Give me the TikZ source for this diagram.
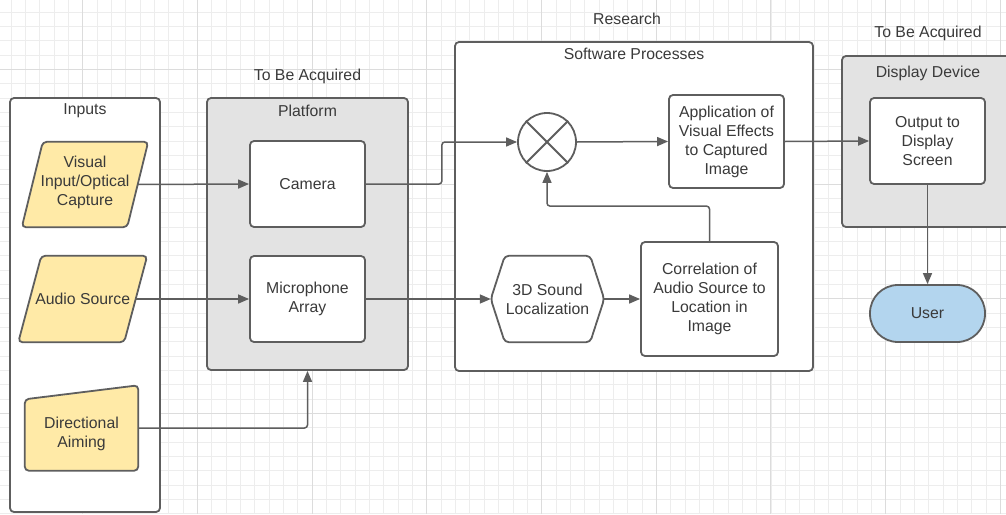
\documentclass[tikz,border=0pt]{standalone}
\usepackage{fontspec}
\setmainfont{Liberation Sans}
\usetikzlibrary{arrows.meta,calc}
\definecolor{lc}{HTML}{5E5E5E}
\definecolor{tc}{HTML}{3A3A3A}
\definecolor{yel}{HTML}{FFEAA7}
\definecolor{gfill}{HTML}{E3E3E3}
\definecolor{ublue}{HTML}{B3D5EE}
\definecolor{gminor}{HTML}{EDEDED}
\definecolor{gmajor}{HTML}{DCDCDC}
\begin{document}
\begin{tikzpicture}[x=1pt,y=-1pt,
  every node/.style={text=tc,font=\fontsize{15.8}{19}\selectfont,align=center,inner sep=0pt},
  container/.style={draw=lc,line width=1.8pt,rounded corners=4pt,fill=white},
  gcontainer/.style={container,fill=gfill},
  procbox/.style={draw=lc,line width=1.8pt,rounded corners=4pt,fill=white,minimum width=115pt,minimum height=86pt},
  shapeline/.style={draw=lc,line width=1.8pt,rounded corners=4pt},
  conn/.style={draw=lc,line width=1.5pt,rounded corners=3pt,-{Triangle[length=11pt,width=9pt]}},
  minorgrid/.style={draw=gminor,line width=0.8pt},
  majorgrid/.style={draw=gmajor,line width=1pt}]
\useasboundingbox (0,0) rectangle (1006,514);
\clip (0,0) rectangle (1006,514);
\fill[white] (0,0) rectangle (1006,514);
% grid
\foreach \i in {0,...,70} \draw[minorgrid] ({11+14.34*\i},0) -- ({11+14.34*\i},514);
\foreach \i in {0,...,35} \draw[minorgrid] (0,{11.9+14.34*\i}) -- (1006,{11.9+14.34*\i});
\foreach \i in {0,...,8} \draw[majorgrid] ({82.7+114.7*\i},0) -- ({82.7+114.7*\i},514);
\foreach \i in {0,...,3} \draw[majorgrid] (0,{69.3+114.7*\i}) -- (1006,{69.3+114.7*\i});

% containers
\node[container,minimum width=150pt,minimum height=414pt] (inputs) at (85,305) {};
\node (inputsT) at (85,111) {Inputs};
\node[gcontainer,minimum width=201pt,minimum height=272pt] (plat) at (307.5,234) {};
\node (platT) at (307.5,111) {Platform};
\node (platL) at (307.5,76.5) {To Be Acquired};
\node[container,minimum width=358pt,minimum height=329pt] (soft) at (634,206.5) {};
\node (softT) at (634,53.5) {Software Processes};
\node (softL) at (627,18.5) {Research};
\node[gcontainer,minimum width=178pt,minimum height=171pt] (disp) at (931,141.5) {};
\node (dispT) at (928,73) {Display Device};
\node (dispL) at (928,33) {To Be Acquired};

% input shapes
\node[minimum width=105pt,minimum height=85pt] (vis) at (85,184.5) {};
\path[shapeline,fill=yel] ($(vis.north west)+(10.5,0)$) -- ($(vis.north east)+(10.5,0)$) -- ($(vis.south east)+(-10.5,0)$) -- ($(vis.south west)+(-10.5,0)$) -- cycle;
\node at ($(vis.center)+(0,-2)$) {Visual\\Input/Optical\\Capture};

\node[minimum width=105.5pt,minimum height=86pt] (aud) at (82.75,299) {};
\path[shapeline,fill=yel] ($(aud.north west)+(11.5,0)$) -- ($(aud.north east)+(11.5,0)$) -- ($(aud.south east)+(-11.5,0)$) -- ($(aud.south west)+(-11.5,0)$) -- cycle;
\node at (aud.center) {Audio Source};

\node[minimum width=113pt,minimum height=85pt] (aim) at (81.5,428) {};
\path[shapeline,fill=yel] ($(aim.north west)+(0,14)$) -- (aim.north east) -- (aim.south east) -- (aim.south west) -- cycle;
\node at ($(aim.center)+(0,6)$) {Directional\\Aiming};

% platform
\node[procbox] (cam) at (307.5,184) {Camera};
\node[procbox] (mic) at (307.5,299) {Microphone\\Array};

% software
\node[circle,draw=lc,line width=1.8pt,fill=white,minimum size=58pt] (circ) at (547,142) {};
\draw[lc,line width=1.8pt] (circ.north west) -- (circ.south east);
\draw[lc,line width=1.8pt] (circ.north east) -- (circ.south west);
\node[procbox,minimum height=93pt] (app) at (726.5,141.5) {Application of\\Visual Effects\\to Captured\\Image};
\node[minimum width=113pt,minimum height=86pt] (hex) at (547.5,299) {};
\path[shapeline,fill=white] (hex.west) -- ($(hex.north west)+(14,0)$) -- ($(hex.north east)+(-14,0)$) -- (hex.east) -- ($(hex.south east)+(-14,0)$) -- ($(hex.south west)+(14,0)$) -- cycle;
\node at (hex.center) {3D Sound\\Localization};
\node[procbox,minimum width=137pt,minimum height=114pt] (corr) at (709.5,299) {Correlation of\\Audio Source to\\Location in\\Image};

% display
\node[procbox] (out) at (927.5,141) {Output to\\Display\\Screen};
\node[draw=lc,line width=1.8pt,fill=ublue,rounded corners=28pt,minimum width=115pt,minimum height=57pt] (user) at (927.5,313.5) {User};

% connectors
\draw[conn] (vis.east) -- (cam.west);
\draw[conn] (aud.east) -- (mic.west);
\draw[conn] (aim.east) -| (cam.south |- plat.south);
\draw[conn] (cam.east) -- ++(76,0) |- (circ.west);
\draw[conn] (mic.east) -- (hex.west);
\draw[conn] (hex.east) -- (corr.west);
\draw[conn] (corr.north) -- ++(0,-35) -| (circ.south);
\draw[conn] (circ.east) -- (app.west);
\draw[conn] (app.east) -- (out.west);
\draw[conn] (out.south) -- (user.north);
\end{tikzpicture}
\end{document}
